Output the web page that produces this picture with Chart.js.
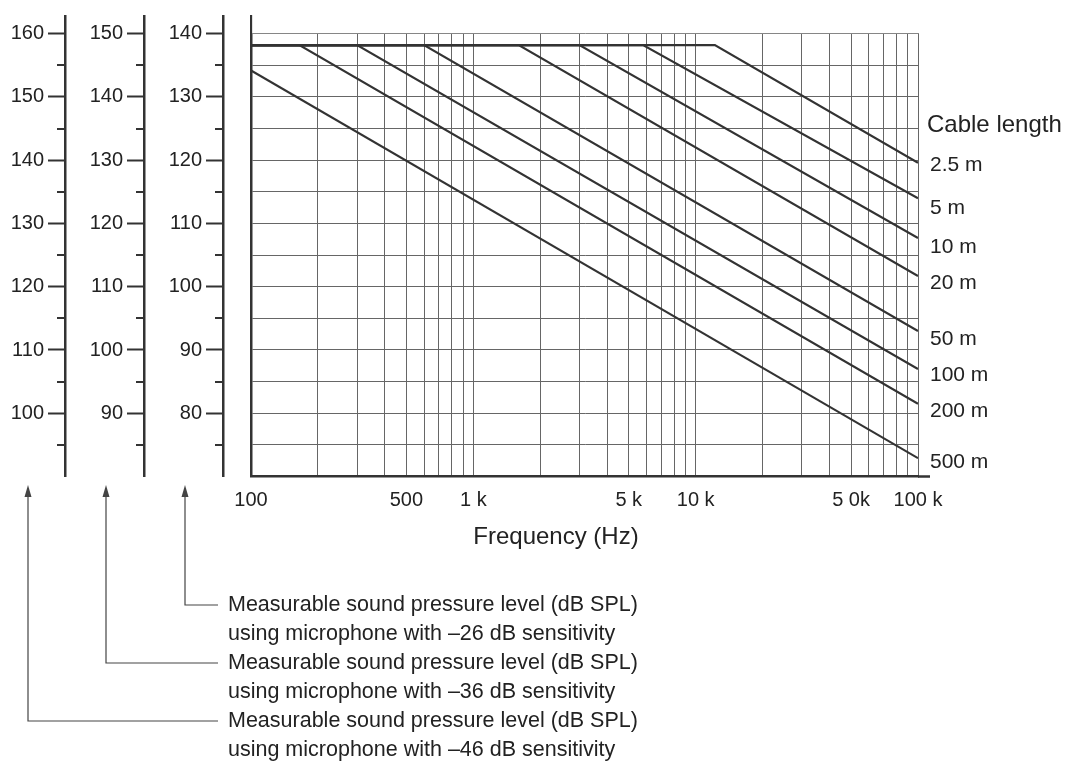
<!DOCTYPE html>
<html>
<head>
<meta charset="utf-8">
<script src="https://cdn.jsdelivr.net/npm/chart.js@4.4.0/dist/chart.umd.min.js"></script>
<style>
  html, body { margin: 0; padding: 0; background: #fff; }
  #wrap { width: 1072px; height: 765px; position: relative; }
</style>
</head>
<body>
<div id="wrap"><canvas id="chart"></canvas></div>
<script>
// readings: level in dB SPL (for the -26 dB mic scale), frequency in Hz
const cableLabels = ["2.5 m", "5 m", "10 m", "20 m", "50 m", "100 m", "200 m", "500 m"];
const plateauDb = 138.2;
const startDb = [138.2, 138.2, 138.2, 138.2, 138.2, 138.2, 138.2, 134.2];
const cornerHz = [12200, 5800, 3000, 1600, 600, 300, 165, null];
const endDb = [119.6, 114.0, 107.7, 101.7, 93.0, 87.0, 81.5, 72.9];
const freqStart = 100;
const freqEnd = 100000;

const xTickValues = [100, 500, 1000, 5000, 10000, 50000, 100000];
const xTickText = ["100", "500", "1 k", "5 k", "10 k", "5 0k", "100 k"];

// the two extra scales are the same curve read with less sensitive mics
const micSensitivity = [-26, -36, -46];
const noteLines = [
  "Measurable sound pressure level (dB SPL)",
  "using microphone with –26 dB sensitivity",
  "Measurable sound pressure level (dB SPL)",
  "using microphone with –36 dB sensitivity",
  "Measurable sound pressure level (dB SPL)",
  "using microphone with –46 dB sensitivity"
];

const FONT = "'Liberation Sans', Arial, sans-serif";
const INK = '#333';
const TXT = '#222';
const GRID = '#666';
const labelNudge = [2, 10, 9, 7, 8, 6, 7, 4];

const datasets = cableLabels.map((name, i) => {
  const pts = [{x: freqStart, y: startDb[i]}];
  if (cornerHz[i]) pts.push({x: cornerHz[i], y: plateauDb});
  pts.push({x: freqEnd, y: endDb[i]});
  return {
    label: name, data: pts, yAxisID: 'y',
    borderColor: INK, borderWidth: 2.2, pointRadius: 0, tension: 0, fill: false
  };
});

const mainMin = 70, mainMax = 142.8;

function leftAxis(offset, weight, width) {
  const lo = mainMin + offset;
  return {
    type: 'linear', position: 'left', weight: weight,
    min: lo, max: mainMax + offset,
    afterFit: s => { s.width = width; },
    ticks: {
      stepSize: 5, includeBounds: false, padding: 4, color: TXT,
      font: {family: FONT, size: 20},
      callback: v => (v % 10 === 0 && v > lo) ? String(v) : ''
    },
    grid: {
      drawOnChartArea: offset === 0, color: GRID, lineWidth: 1,
      tickLength: 17, tickWidth: 2,
      tickColor: c => (c.tick && c.tick.value % 10 === 0 && c.tick.value > lo) ? INK : 'rgba(0,0,0,0)'
    },
    border: {color: INK, width: 2.5}
  };
}

const extras = {
  id: 'extras',
  beforeDatasetsDraw(chart) {
    // vertical grid stops at the 140 line, only the frame goes higher
    const {ctx, chartArea} = chart;
    const y140 = chart.scales.y.getPixelForValue(140);
    ctx.save();
    ctx.fillStyle = '#fff';
    ctx.fillRect(chartArea.left + 1.3, chartArea.top - 2, chartArea.right - chartArea.left + 4, y140 - chartArea.top + 1.5);
    ctx.restore();
  },
  afterDraw(chart) {
    const {ctx, chartArea} = chart;
    ctx.save();
    // short ticks at the 5 dB steps
    ctx.strokeStyle = INK;
    ctx.lineWidth = 2;
    ['y', 'yMid', 'yFar'].forEach(id => {
      const s = chart.scales[id];
      s.ticks.forEach(t => {
        if (t.value % 10 !== 5) return;
        const py = Math.round(s.getPixelForValue(t.value));
        ctx.beginPath();
        ctx.moveTo(s.right - 8, py);
        ctx.lineTo(s.right, py);
        ctx.stroke();
      });
    });
    // bottom frame runs a little past 100 k
    ctx.lineWidth = 2.5;
    ctx.beginPath();
    ctx.moveTo(chartArea.right, chartArea.bottom);
    ctx.lineTo(chartArea.right + 12, chartArea.bottom);
    ctx.stroke();

    // cable length labels
    ctx.fillStyle = TXT;
    ctx.textAlign = 'left';
    ctx.textBaseline = 'middle';
    ctx.font = '24px ' + FONT;
    ctx.fillText('Cable length', 927, 125);
    ctx.font = '21px ' + FONT;
    chart.data.datasets.forEach((d, i) => {
      const pts = chart.getDatasetMeta(i).data;
      const last = pts[pts.length - 1];
      ctx.fillText(d.label, 930, last.y + labelNudge[i]);
    });

    // axis title
    ctx.textAlign = 'center';
    ctx.font = '24px ' + FONT;
    ctx.fillText('Frequency (Hz)', 556, 537);

    // arrows from each level scale to its note
    const arrowX = [185, 106, 28];
    const noteY = [605, 663, 721];
    ctx.strokeStyle = '#444';
    ctx.fillStyle = '#444';
    ctx.lineWidth = 1.2;
    arrowX.forEach((ax, i) => {
      ctx.beginPath();
      ctx.moveTo(ax, 494);
      ctx.lineTo(ax, noteY[i]);
      ctx.lineTo(218, noteY[i]);
      ctx.stroke();
      ctx.beginPath();
      ctx.moveTo(ax, 485);
      ctx.lineTo(ax - 3.5, 497);
      ctx.lineTo(ax + 3.5, 497);
      ctx.closePath();
      ctx.fill();
    });

    ctx.fillStyle = TXT;
    ctx.textAlign = 'left';
    ctx.font = '21.5px ' + FONT;
    noteLines.forEach((t, i) => ctx.fillText(t, 228, 605 + i * 29));
    ctx.restore();
  }
};

new Chart(document.getElementById('chart'), {
  type: 'line',
  data: {datasets: datasets},
  options: {
    responsive: true,
    maintainAspectRatio: false,
    animation: false,
    layout: {padding: {left: 0, top: 14, right: 154, bottom: 248.5}},
    plugins: {legend: {display: false}, tooltip: {enabled: false}},
    scales: {
      x: {
        type: 'logarithmic', position: 'bottom',
        min: freqStart, max: freqEnd,
        afterBuildTicks: s => {
          const t = [];
          for (let d = 100; d < 100000; d *= 10) {
            for (let k = 1; k < 10; k++) t.push({value: d * k});
          }
          t.push({value: 100000});
          s.ticks = t;
        },
        afterFit: s => { s.height = 40; },
        grid: {color: GRID, lineWidth: 1, drawTicks: false},
        border: {color: INK, width: 2.5},
        ticks: {
          autoSkip: false, maxRotation: 0, padding: 12, color: TXT,
          font: {family: FONT, size: 20},
          callback: v => {
            const i = xTickValues.indexOf(v);
            return i >= 0 ? xTickText[i] : '';
          }
        }
      },
      yGap: {
        type: 'linear', position: 'left', weight: 0,
        min: mainMin, max: mainMax,
        afterFit: s => { s.width = 28; },
        ticks: {display: false},
        grid: {display: false},
        border: {display: true, color: INK, width: 2.5}
      },
      y: leftAxis(-26 - micSensitivity[0], 1, 79),
      yMid: leftAxis(-26 - micSensitivity[1], 2, 79),
      yFar: leftAxis(-26 - micSensitivity[2], 3, 65)
    }
  },
  plugins: [extras]
});
</script>
</body>
</html>
